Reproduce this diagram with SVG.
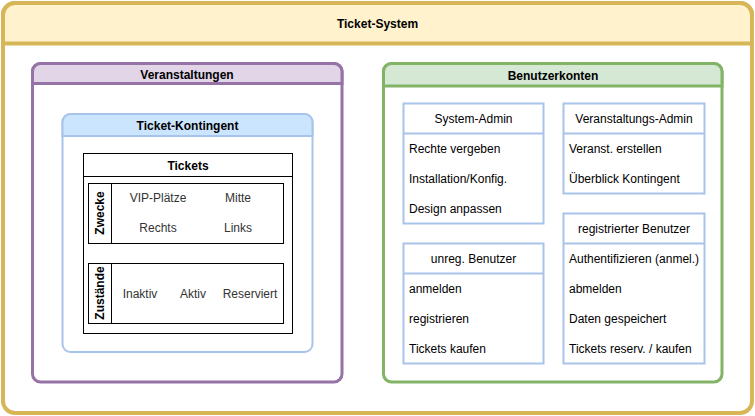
<svg xmlns="http://www.w3.org/2000/svg" width="755" height="416" viewBox="0 0 755 416">
<style>
text{font-family:"Liberation Sans",Arial,sans-serif;font-size:12px;fill:#000;dominant-baseline:central}
.b{font-weight:bold}
.c{text-anchor:middle}
.g{fill:#333}
.lb{fill:#fff;stroke:#a9c4eb;stroke-width:2}
.ln{fill:none;stroke:#a9c4eb;stroke-width:2}
.k{fill:#fff;stroke:#000;stroke-width:1}
</style>
<g id="ticket-system">
<rect x="3" y="3" width="749" height="410" rx="12" fill="#fff" stroke="#d6b656" stroke-width="4"/>
<path d="M3 43.5V15A12 12 0 0 1 15 3H740A12 12 0 0 1 752 15V43.5Z" fill="#fff2cc" stroke="#d6b656" stroke-width="4"/>
<text class="b c" x="377.5" y="24">Ticket-System</text>
</g>
<g id="veranstaltungen">
<rect x="32.5" y="63.5" width="309.5" height="318.5" rx="8" fill="#fff" stroke="#9673a6" stroke-width="3"/>
<path d="M32.5 83.5V71.5A8 8 0 0 1 40.5 63.5H334A8 8 0 0 1 342 71.5V83.5Z" fill="#e1d5e7" stroke="#9673a6" stroke-width="3"/>
<text class="b c" x="187" y="74.5">Veranstaltungen</text>
</g>
<g id="ticket-kontingent">
<rect x="62.5" y="114" width="250" height="238" rx="8" fill="#fff" stroke="#a9c4eb" stroke-width="2"/>
<path d="M62.5 136V122A8 8 0 0 1 70.5 114H304.5A8 8 0 0 1 312.5 122V136Z" fill="#cce5ff" stroke="#a9c4eb" stroke-width="2"/>
<text class="b c" x="187.5" y="126">Ticket-Kontingent</text>
</g>
<g id="tickets">
<rect class="k" x="83.5" y="153.5" width="209" height="180"/>
<line x1="83.5" y1="176.5" x2="292.5" y2="176.5" stroke="#000"/>
<text class="b c" x="188" y="165.5">Tickets</text>
</g>
<g id="zwecke">
<rect class="k" x="88.5" y="183.5" width="195" height="60"/>
<line x1="111.5" y1="183.5" x2="111.5" y2="243.5" stroke="#000"/>
<text class="b c" transform="translate(100 213) rotate(-90)">Zwecke</text>
<text class="c g" x="158" y="198">VIP-Plätze</text>
<text class="c g" x="238" y="198">Mitte</text>
<text class="c g" x="158" y="228">Rechts</text>
<text class="c g" x="238" y="228">Links</text>
</g>
<g id="zustaende">
<rect class="k" x="88.5" y="263.5" width="195" height="60"/>
<line x1="111.5" y1="263.5" x2="111.5" y2="323.5" stroke="#000"/>
<text class="b c" transform="translate(100 293) rotate(-90)">Zustände</text>
<text class="c g" x="140" y="293.5">Inaktiv</text>
<text class="c g" x="193" y="293.5">Aktiv</text>
<text class="c g" x="250" y="293.5">Reserviert</text>
</g>
<g id="benutzerkonten">
<rect x="383.5" y="63.5" width="338.5" height="318.5" rx="8" fill="#fff" stroke="#82b366" stroke-width="3"/>
<path d="M383.5 86V71.5A8 8 0 0 1 391.5 63.5H714A8 8 0 0 1 722 71.5V86Z" fill="#d5e8d4" stroke="#82b366" stroke-width="3"/>
<text class="b c" x="553" y="75.5">Benutzerkonten</text>
</g>
<g id="system-admin">
<rect class="lb" x="403.5" y="103.5" width="140" height="120"/>
<line class="ln" x1="403.5" y1="133.5" x2="543.5" y2="133.5"/>
<text class="c" x="473.5" y="119">System-Admin</text>
<text x="409" y="149">Rechte vergeben</text>
<text x="409" y="179">Installation/Konfig.</text>
<text x="409" y="209">Design anpassen</text>
</g>
<g id="veranstaltungs-admin">
<rect class="lb" x="563.5" y="103.5" width="141" height="90"/>
<line class="ln" x1="563.5" y1="133.5" x2="704.5" y2="133.5"/>
<text class="c" x="634" y="119">Veranstaltungs-Admin</text>
<text x="569" y="149">Veranst. erstellen</text>
<text x="569" y="179">Überblick Kontingent</text>
</g>
<g id="unreg-benutzer">
<rect class="lb" x="403.5" y="243.5" width="140" height="120"/>
<line class="ln" x1="403.5" y1="273.5" x2="543.5" y2="273.5"/>
<text class="c" x="473.5" y="259">unreg. Benutzer</text>
<text x="409" y="289">anmelden</text>
<text x="409" y="319">registrieren</text>
<text x="409" y="349">Tickets kaufen</text>
</g>
<g id="registrierter-benutzer">
<rect class="lb" x="563.5" y="213.5" width="141" height="150"/>
<line class="ln" x1="563.5" y1="243.5" x2="704.5" y2="243.5"/>
<text class="c" x="634" y="229">registrierter Benutzer</text>
<text x="569" y="259">Authentifizieren (anmel.)</text>
<text x="569" y="289">abmelden</text>
<text x="569" y="319">Daten gespeichert</text>
<text x="569" y="349">Tickets reserv. / kaufen</text>
</g>
<g id="connectors"/>
</svg>
